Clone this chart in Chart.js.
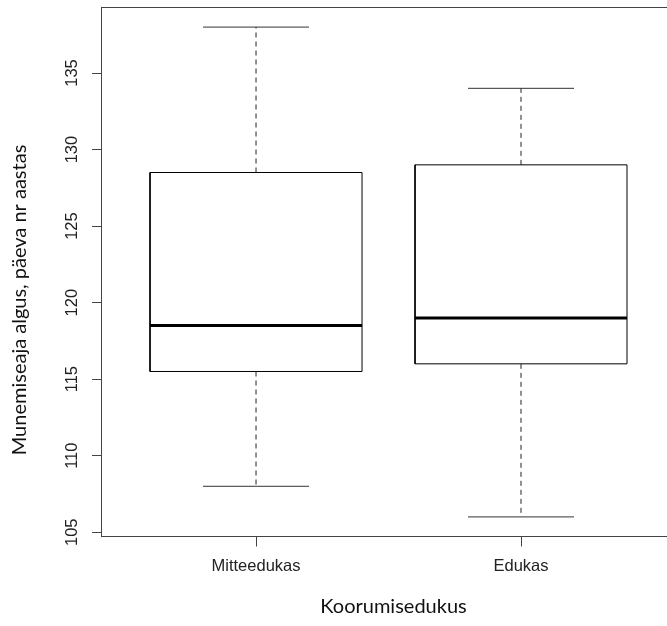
<!DOCTYPE html>
<html>
<head>
<meta charset="utf-8">
<script src="https://cdn.jsdelivr.net/npm/chart.js@4/dist/chart.umd.min.js"></script>
<style>
  html, body { margin: 0; padding: 0; background: #ffffff; overflow: hidden; }
  #wrap { width: 667px; height: 626px; overflow: hidden; }
  #chart { display: block; }
</style>
</head>
<body>
<div id="wrap"><canvas id="chart" width="686" height="626"></canvas></div>
<script>
// Box plot summaries per group (days of the year)
const categories   = ['Mitteedukas', 'Edukas'];
const whiskerLow   = [108, 106];
const quartile1    = [115.5, 116];
const medians      = [118.5, 119];
const quartile3    = [128.5, 129];
const whiskerHigh  = [138, 134];
const yTickValues  = [105, 110, 115, 120, 125, 130, 135];

const xTitle = 'Koorumisedukus';
const yTitle = 'Munemiseaja algus, päeva nr aastas';

const BOX_HALF = 0.4;   // half width of a box, in x units
const CAP_HALF = 0.2;   // half width of a whisker cap

const lineSet = (data, extra) => Object.assign({
  type: 'line',
  data,
  borderColor: '#000000',
  borderWidth: 1,
  pointRadius: 0,
  pointHoverRadius: 0,
  fill: false,
  tension: 0
}, extra || {});

const datasets = [];
categories.forEach((name, i) => {
  const x = i + 1;
  // upper and lower whiskers (dashed)
  datasets.push(lineSet([{x, y: quartile3[i]}, {x, y: whiskerHigh[i]}], {borderDash: [5, 4], borderColor: '#222'}));
  datasets.push(lineSet([{x, y: quartile1[i]}, {x, y: whiskerLow[i]}], {borderDash: [5, 4], borderColor: '#222'}));
  // whisker caps
  datasets.push(lineSet([{x: x - CAP_HALF, y: whiskerHigh[i]}, {x: x + CAP_HALF, y: whiskerHigh[i]}], {borderColor: '#333'}));
  datasets.push(lineSet([{x: x - CAP_HALF, y: whiskerLow[i]}, {x: x + CAP_HALF, y: whiskerLow[i]}], {borderColor: '#333'}));
  // interquartile box
  datasets.push(lineSet([
    {x: x - BOX_HALF, y: quartile1[i]}, {x: x + BOX_HALF, y: quartile1[i]},
    {x: x + BOX_HALF, y: quartile3[i]}, {x: x - BOX_HALF, y: quartile3[i]},
    {x: x - BOX_HALF, y: quartile1[i]}
  ]));
  // median
  datasets.push(lineSet([{x: x - BOX_HALF, y: medians[i]}, {x: x + BOX_HALF, y: medians[i]}], {borderWidth: 3}));
});

const axisColor = '#444';
const tickFont = {family: '"Liberation Sans", Arial, sans-serif', size: 16.5};
const titleFont = {family: 'Lato, "Open Sans", sans-serif', size: 20};

// Vertical axis title, set a little below the middle of the plot
const yTitlePlugin = {
  id: 'yTitle',
  afterDraw(chart) {
    const {ctx} = chart;
    ctx.save();
    ctx.translate(20, 300);
    ctx.rotate(-Math.PI / 2);
    ctx.font = `${titleFont.size}px ${titleFont.family}`;
    ctx.fillStyle = '#111';
    ctx.textAlign = 'center';
    ctx.textBaseline = 'middle';
    ctx.fillText(yTitle, 0, 0);
    ctx.restore();
  }
};

new Chart(document.getElementById('chart'), {
  type: 'scatter',
  data: {datasets},
  plugins: [yTitlePlugin],
  options: {
    responsive: false,
    animation: false,
    events: [],
    layout: {padding: 0},
    plugins: {legend: {display: false}, tooltip: {enabled: false}},
    scales: {
      x: {
        type: 'linear',
        position: 'bottom',
        min: 0.415,
        max: 2.6226,
        afterBuildTicks: (scale) => { scale.ticks = categories.map((c, i) => ({value: i + 1})); },
        afterFit: (scale) => { scale.height = 89.5; scale.paddingLeft = 0; scale.paddingRight = 0; },
        ticks: {
          callback: (v) => categories[v - 1] || '',
          color: '#222',
          font: tickFont,
          padding: 10,
          maxRotation: 0,
          autoSkip: false
        },
        grid: {drawOnChartArea: false, drawTicks: true, tickLength: 10, color: axisColor},
        border: {display: true, color: axisColor, width: 1},
        title: {
          display: true,
          text: xTitle,
          color: '#111',
          font: titleFont,
          padding: {top: 0, bottom: 7}
        }
      },
      xTop: {
        type: 'linear',
        position: 'top',
        min: 0.415,
        max: 2.6226,
        afterFit: (scale) => { scale.height = 7.5; scale.paddingLeft = 0; scale.paddingRight = 0; },
        ticks: {display: false},
        grid: {display: false},
        border: {display: true, color: axisColor, width: 1}
      },
      y: {
        type: 'linear',
        position: 'left',
        min: 104.72,
        max: 139.28,
        afterBuildTicks: (scale) => { scale.ticks = yTickValues.map(v => ({value: v})); },
        afterFit: (scale) => { scale.width = 101; scale.paddingTop = 0; scale.paddingBottom = 0; },
        ticks: {
          color: '#222',
          font: tickFont,
          minRotation: 90,
          maxRotation: 90,
          crossAlign: 'center',
          padding: 6,
          autoSkip: false
        },
        grid: {drawOnChartArea: false, drawTicks: true, tickLength: 9, color: axisColor},
        border: {display: true, color: axisColor, width: 1},
        title: {display: false}
      }
    }
  }
});
</script>
</body>
</html>
